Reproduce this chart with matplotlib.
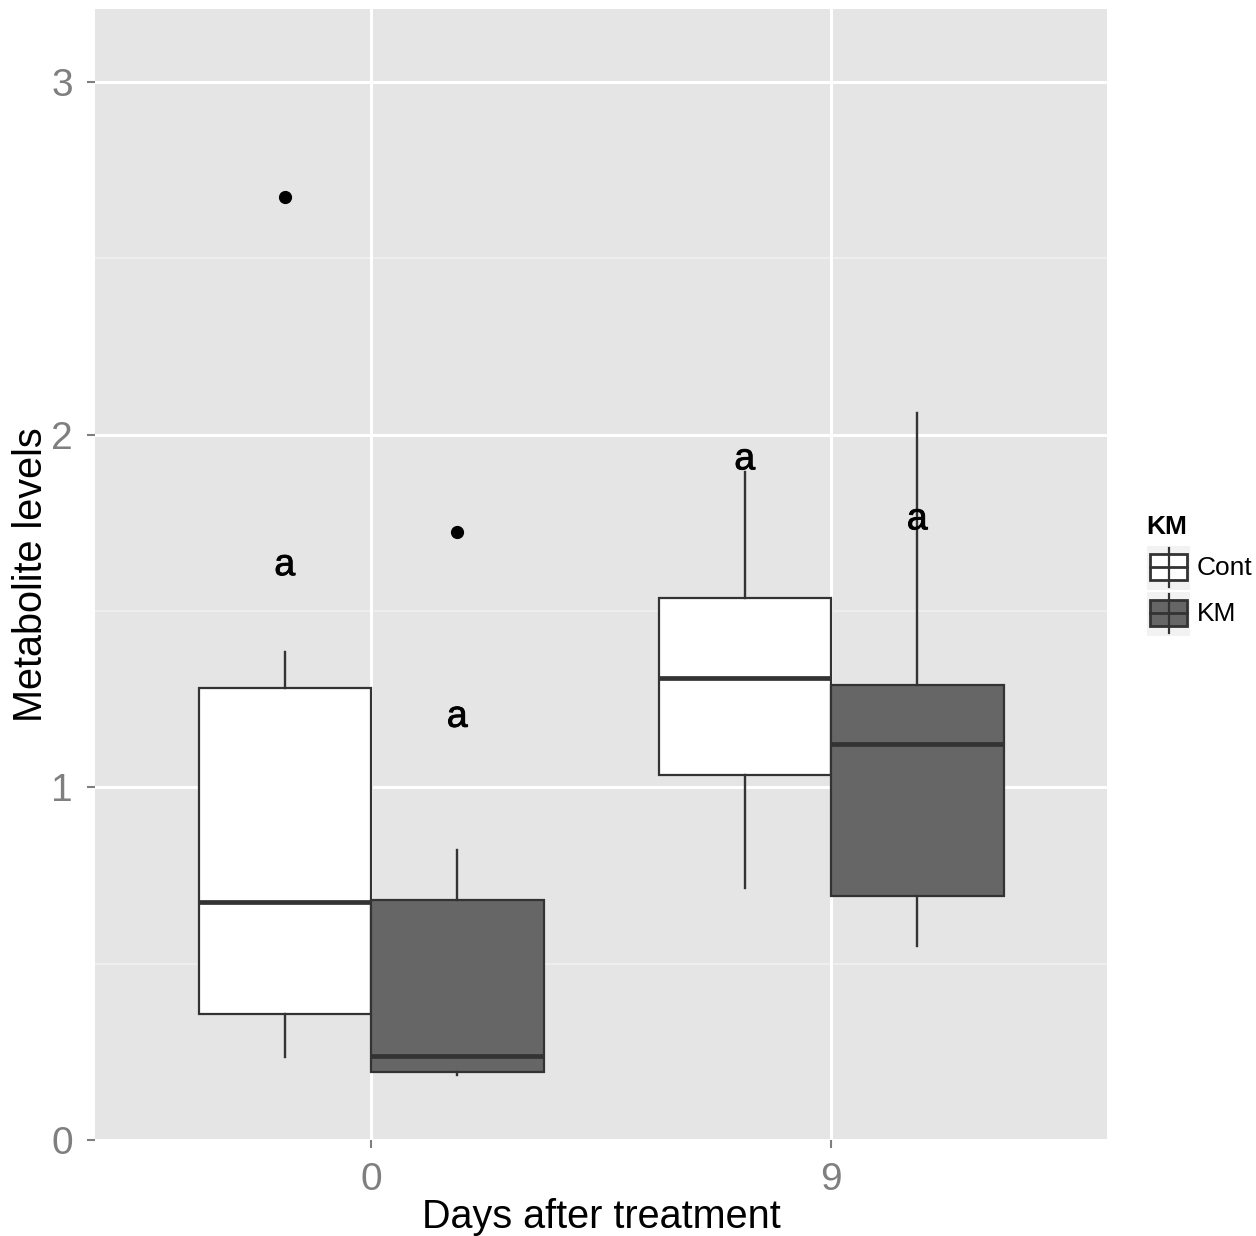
import matplotlib
matplotlib.use("Agg")
import matplotlib.pyplot as plt
import matplotlib.patheffects as pe
from matplotlib.patches import Rectangle

plt.rcParams['font.family'] = ['Liberation Sans', 'DejaVu Sans']

days = ["0", "9"]
groups = ["Cont", "KM"]
colors = {"Cont": "#FFFFFF", "KM": "#666666"}

# box stats per (day, group): whislo, q1, med, q3, whishi, outliers
stats = {
    ("0", "Cont"): [0.235, 0.357, 0.674, 1.283, 1.385, [2.674]],
    ("0", "KM"): [0.184, 0.193, 0.238, 0.680, 0.822, [1.725]],
    ("9", "Cont"): [0.714, 1.034, 1.309, 1.538, 1.895, []],
    ("9", "KM"): [0.550, 0.691, 1.122, 1.289, 2.062, []],
}
letters = {
    ("0", "Cont"): ("a", 1.63),
    ("0", "KM"): ("a", 1.20),
    ("9", "Cont"): ("a", 1.93),
    ("9", "KM"): ("a", 1.76),
}

W, H = 1256, 1236
fig = plt.figure(figsize=(W / 100, H / 100), dpi=100)
ax = fig.add_axes([95 / W, (H - 1140) / H, (1107 - 95) / W, (1140 - 9) / H])
ax.set_facecolor("#E5E5E5")

for y in [0.5, 1.5, 2.5]:
    ax.axhline(y, color="#F2F2F2", lw=1.1, zorder=0)
for y in [0, 1, 2, 3]:
    ax.axhline(y, color="white", lw=2.2, zorder=0)
for x in range(len(days)):
    ax.axvline(x, color="white", lw=2.2, zorder=0)

dodge = 0.1875
for i, d in enumerate(days):
    for j, g in enumerate(groups):
        lo, q1, med, q3, hi, fl = stats[(d, g)]
        pos = i + (j * 2 - 1) * dodge
        ax.bxp([dict(whislo=lo, q1=q1, med=med, q3=q3, whishi=hi, fliers=fl)],
               positions=[pos], widths=0.375, patch_artist=True, showcaps=False,
               boxprops=dict(facecolor=colors[g], edgecolor="#333333", lw=1.6),
               whiskerprops=dict(color="#333333", lw=1.7),
               medianprops=dict(color="#333333", lw=3.4, solid_capstyle="butt"),
               flierprops=dict(marker="o", markerfacecolor="black", markeredgecolor="black",
                               markersize=8.5))
        txt, ty = letters[(d, g)]
        ax.text(pos, ty, txt, ha="center", va="center", fontsize=27, color="black",
                path_effects=[pe.withStroke(linewidth=0.6, foreground="black")])

ax.set_xlim(-0.6, 1.6)
ax.set_ylim(0, 3.207)
ax.set_xticks(range(len(days)))
ax.set_xticklabels(days)
ax.set_yticks([0, 1, 2, 3])
ax.set_yticklabels(["0", "1", "2", "3"])
ax.tick_params(colors="#7F7F7F", labelcolor="#7F7F7F", labelsize=28, length=6, width=1.5, pad=10)
for s in ax.spines.values():
    s.set_visible(False)
ax.set_xlabel("Days after treatment", fontsize=28.5, labelpad=0)
ax.set_ylabel("Metabolite levels", fontsize=28.5, labelpad=1)

# legend
fig.text(1146 / W, 1 - 527 / H, "KM", fontsize=19, fontweight="bold", va="center", ha="left")
lax = fig.add_axes([1147 / W, 1 - 636 / H, 43 / W, 90 / H])
lax.set_xlim(1147, 1190)
lax.set_ylim(636, 546)
lax.axis("off")
for k, g in enumerate(groups):
    top = 546 + 46 * k
    lax.add_patch(Rectangle((1147, top), 43, 44, facecolor="#F2F2F2", edgecolor="none"))
    lax.plot([1168.5, 1168.5], [top + 2, top + 41], color="#333333", lw=1.6)
    lax.add_patch(Rectangle((1150, top + 8), 37, 26, facecolor=colors[g], edgecolor="#333333", lw=2.0))
    lax.plot([1150, 1187], [top + 21, top + 21], color="#333333", lw=2.0)
    fig.text(1197 / W, 1 - (568 + 46 * k) / H, g, fontsize=19, va="center", ha="left")

fig.savefig("out.png", dpi=100)
